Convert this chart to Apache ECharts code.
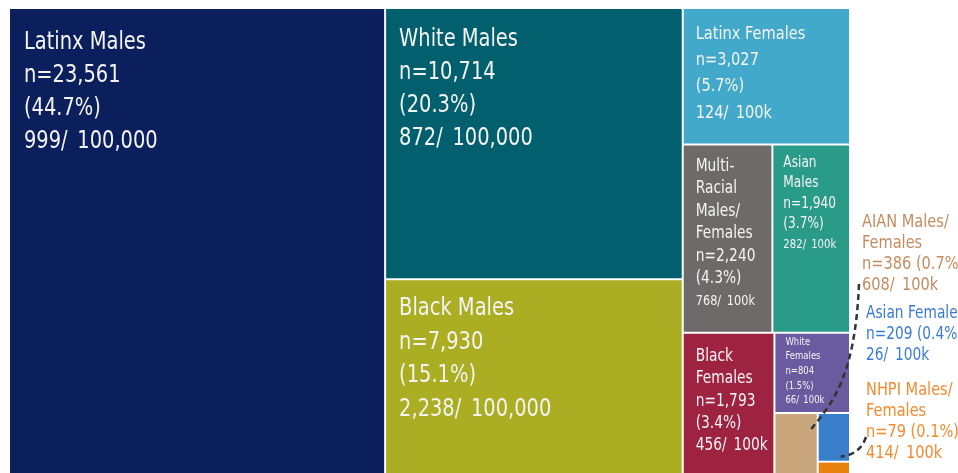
<!DOCTYPE html>
<html>
<head>
<meta charset="utf-8">
<script src="https://cdn.jsdelivr.net/npm/echarts@6/dist/echarts.min.js"></script>
<style>
  html, body { margin: 0; background: #fff; }
  #app { width: 958px; height: 473px; }
</style>
</head>
<body>
<div id="app"></div>
<script>
// data
const groups = ['Latinx Males', 'White Males', 'Black Males', 'Latinx Females', 'Multi-\nRacial\nMales/\nFemales',
  'Asian\nMales', 'Black\nFemales', 'White\nFemales', 'AIAN Males/\nFemales', 'Asian Females', 'NHPI Males/\nFemales'];
const counts = [23561, 10714, 7930, 3027, 2240, 1940, 1793, 804, 386, 209, 79];
const shares = [44.7, 20.3, 15.1, 5.7, 4.3, 3.7, 3.4, 1.5, 0.7, 0.4, 0.1];
const rates = [999, 872, 2238, 124, 768, 282, 456, 66, 608, 26, 414];
const rateUnits = ['100,000', '100,000', '100,000', '100k', '100k', '100k', '100k', '100k', '100k', '100k', '100k'];

// how the cells are grouped; split direction alternates with depth
const nesting = [0, [1, 2], [3, [4, 5], [6, [7, [8, [9, 10]]]]]];

const colors = ['#0b1f5c', '#025f6e', '#abad22', '#42a9cb', '#6e6a69', '#2a9a89',
  '#9e2341', '#6a5a9f', '#c9a67b', '#3a7fcc', '#e8820d'];

// label styles per cell: [font, rate font, line height, pad left, pad top]
const labelStyle = [
  [24, 24, 33, 15, 18], [24, 24, 33, 14, 15], [24, 24, 33.5, 14, 13], [18, 18, 26.3, 13, 13],
  [17, 14, 22.4, 13, 11], [15, 12.5, 20.5, 11, 8], [17, 17, 22.2, 13, 13], [10.5, 10.5, 14.6, 11, 2]
];
const outsideColors = { 8: '#c48c60', 9: '#3a7bd5', 10: '#f08c32' };
const outsideTop = { 8: 212, 9: 303, 10: 380 };
const FONT = '"DejaVu Sans Condensed", "DejaVu Sans", sans-serif';
const SQUEEZE = 0.9;

function total(node) {
  return Array.isArray(node) ? node.reduce((s, n) => s + total(n), 0) : counts[node];
}

function layout(node, x0, y0, x1, y1, horizontal, out) {
  if (!Array.isArray(node)) { out[node] = [x0, y0, x1, y1]; return out; }
  const sum = total(node);
  let pos = horizontal ? x0 : y0;
  node.forEach(child => {
    const f = total(child) / sum;
    if (horizontal) {
      const w = (x1 - x0) * f;
      layout(child, pos, y0, pos + w, y1, false, out);
      pos += w;
    } else {
      const h = (y1 - y0) * f;
      layout(child, x0, pos, x1, pos + h, true, out);
      pos += h;
    }
  });
  return out;
}

const rects = layout(nesting, 0, 0, 1, 1, true, []);
const cells = rects.map((r, i) => [r[0], r[1], r[2], r[3], i]);

function labelLines(i) {
  const name = groups[i].split('\n');
  const n = 'n=' + counts[i].toLocaleString('en-US');
  const pct = '(' + shares[i].toFixed(1) + '%)';
  const rate = rates[i].toLocaleString('en-US') + '/\u2002' + rateUnits[i];
  if (i >= 8) return name.concat([n + ' ' + pct, rate]);
  return name.concat([n, pct, rate]);
}

function textEl(t, x, y, size, color) {
  return {
    type: 'text', z2: 5,
    x: x, y: y, scaleX: SQUEEZE,
    style: {
      text: t, x: 0, y: 0, fill: color, fontSize: size,
      fontFamily: FONT, verticalAlign: 'middle', align: 'left'
    }
  };
}

function renderItem(params, api) {
  const i = api.value(4);
  const a = api.coord([api.value(0), api.value(1)]);
  const b = api.coord([api.value(2), api.value(3)]);
  const children = [{
    type: 'rect',
    shape: { x: a[0] + 1, y: a[1] + 1, width: b[0] - a[0] - 2, height: b[1] - a[1] - 2 },
    style: { fill: colors[i] }
  }];
  const lines = labelLines(i);
  if (i < 8) {
    const [fs, rfs, lh, pl, pt] = labelStyle[i];
    lines.forEach((t, k) => {
      children.push(textEl(t, a[0] + pl, a[1] + pt + lh / 2 + k * lh,
        k === lines.length - 1 ? rfs : fs, '#f4f4f4'));
    });
  } else {
    const right = api.coord([1, 0])[0];
    const lx = right + (i === 8 ? 12 : 16);
    const lh = 21;
    lines.forEach((t, k) => {
      children.push(textEl(t, lx, outsideTop[i] + lh / 2 + k * lh, i === 9 ? 17 : 18, outsideColors[i]));
    });
    const dash = { stroke: '#333', lineWidth: 2.5, lineDash: [6, 4], fill: null };
    if (i === 8) {
      const ex = b[0] - 8, ey = a[1] + 18;
      children.push({
        type: 'bezierCurve', z2: 4,
        shape: { x1: lx - 3, y1: outsideTop[i] + 4 * lh - 12, cpx1: lx - 7, cpy1: ey - 50,
          cpx2: ex + 20, cpy2: ey - 25, x2: ex, y2: ey },
        style: dash
      });
    }
    if (i === 10) {
      const ex = a[0] + 23, ey = a[1] - 5;
      children.push({
        type: 'bezierCurve', z2: 4,
        shape: { x1: lx, y1: outsideTop[i] + 57, cpx1: lx - 6, cpy1: ey - 2, x2: ex, y2: ey },
        style: dash
      });
    }
  }
  return { type: 'group', children };
}

const chart = echarts.init(document.getElementById('app'));
chart.setOption({
  animation: false,
  grid: { left: 9, right: 108, top: 8, bottom: 0 },
  xAxis: { type: 'value', min: 0, max: 1, show: false },
  // the bottom edge of the plot sits just below the window
  yAxis: { type: 'value', min: 0, max: 0.985, inverse: true, show: false },
  series: [{
    type: 'custom',
    renderItem,
    clip: false,
    encode: { x: [0, 2], y: [1, 3] },
    data: cells
  }]
});
</script>
</body>
</html>
